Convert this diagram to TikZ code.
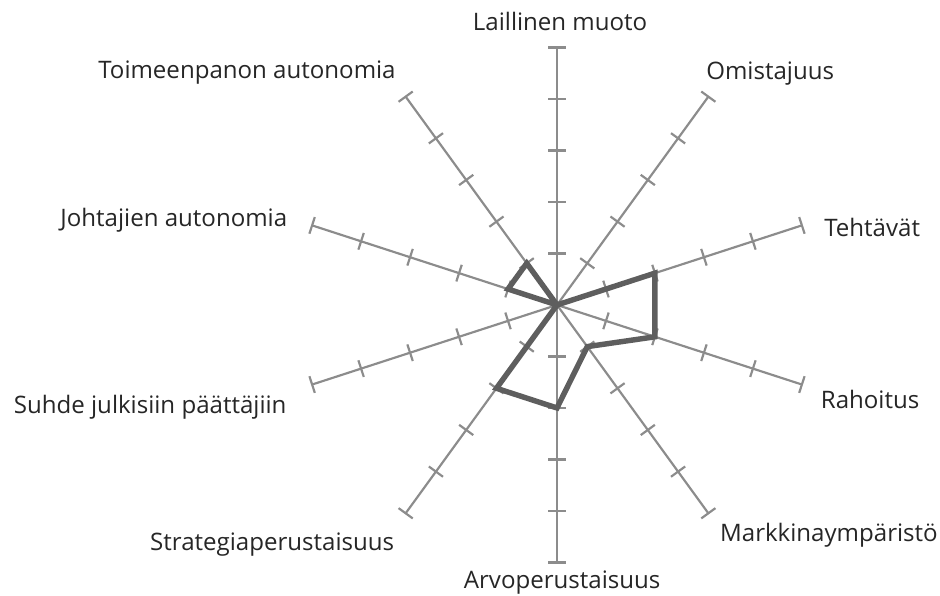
\documentclass[tikz,border=0pt]{standalone}
\usepackage{fontspec}
\setmainfont{Open Sans}
\usepackage{tikz}
\usetikzlibrary{positioning}

\begin{document}
\begin{tikzpicture}[x=1cm,y=1cm,
                    spoke/.style={line width=1.2pt, black!45},
                    tickmark/.style={line width=1.2pt, black!45},
                    score/.style={line width=3pt, black!63},
                    lbl/.style={font=\fontsize{13.3}{15}\selectfont, text=black!85, inner sep=0pt},
                   ]

\useasboundingbox (-10.816,-5.650) rectangle (7.437,5.922);

\coordinate (0) at (0,0);

% spokes with tick marks
\foreach \a/\i in {90/1,54/2,18/3,-18/4,-54/5,-90/6,-126/7,-162/8,162/9,126/10} {
  \coordinate (e\i) at (\a:5);
  \draw[spoke] (0) -- (e\i);
  \foreach \k in {1,...,5}
    \draw[tickmark, rotate=\a] (\k,0.17) -- (\k,-0.17);
}

% labels
\node[lbl] (laillinen) at (0.06,5.50) {Laillinen muoto};
\node[lbl] (omistajuus) at (4.14,4.50) {Omistajuus};
\node[lbl] (tehtavat) at (6.12,1.51) {Tehtävät};
\node[lbl] (rahoitus) at (6.08,-1.83) {Rahoitus};
\node[lbl] (markkina) at (5.28,-4.47) {Markkinaympäristö};
\node[lbl] (arvo) at (0.10,-5.40) {Arvoperustaisuus};
\node[lbl] (strategia) at (-5.53,-4.66) {Strategiaperustaisuus};
\node[lbl] (suhde) at (-7.90,-1.98) {Suhde julkisiin päättäjiin};
\node[lbl] (johtajat) at (-7.44,1.65) {Johtajien autonomia};
\node[lbl] (toimeenpano) at (-6.02,4.52) {Toimeenpanon autonomia};

% scores
\foreach \a/\v/\i in {90/0/1,54/0/2,18/2/3,-18/2/4,-54/1/5,-90/2/6,-126/2/7,-162/0/8,162/1/9,126/1/10}
  \coordinate (d\i) at (\a:\v);

\draw[score] (d1) -- (d2) -- (d3) -- (d4) -- (d5) -- (d6) -- (d7) -- (d8) -- (d9) -- (d10) -- cycle;

\end{tikzpicture}
\end{document}
